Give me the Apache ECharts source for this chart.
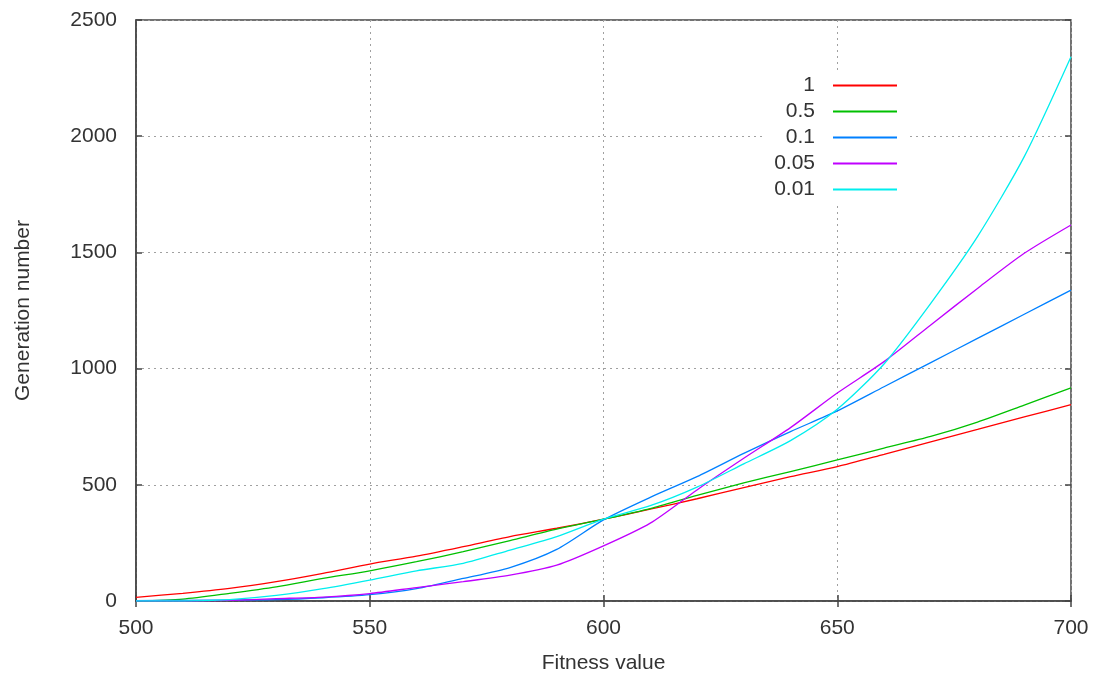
<!DOCTYPE html>
<html>
<head>
<meta charset="utf-8">
<script src="https://cdn.jsdelivr.net/npm/echarts@6/dist/echarts.min.js"></script>
<style>
  html, body { margin: 0; padding: 0; background: #fff; }
  #chart { width: 1094px; height: 677px; }
</style>
</head>
<body>
<div id="chart"></div>
<script>
// fitness values (x) shared by all series
const fitness = [500, 510, 520, 530, 540, 550, 560, 570, 580, 590, 600,
                 610, 620, 630, 640, 650, 660, 670, 680, 690, 700];

const rate1   = [16, 33, 54, 83, 119, 159, 193, 234, 277, 313, 352,
                 395, 440, 488, 535, 578, 631, 685, 738, 792, 845];
const rate05  = [0, 8, 33, 61, 97, 130, 169, 212, 260, 309, 352,
                 398, 455, 508, 557, 607, 658, 708, 770, 843, 917];
const rate01  = [2, 3, 4, 6, 14, 27, 53, 97, 144, 222, 349,
                 446, 535, 635, 729, 818, 922, 1026, 1130, 1234, 1338];
const rate005 = [0, 0, 3, 10, 17, 32, 58, 83, 111, 154, 237,
                 335, 478, 614, 746, 895, 1030, 1188, 1345, 1496, 1618];
const rate001 = [0, 0, 6, 24, 53, 90, 130, 162, 219, 277, 352,
                 410, 490, 590, 690, 825, 1020, 1281, 1568, 1912, 2342];

const names  = ['1', '0.5', '0.1', '0.05', '0.01'];
const colors = ['#ff0000', '#00c000', '#0080ff', '#c000ff', '#00eeee'];
const values = [rate1, rate05, rate01, rate005, rate001];

const chart = echarts.init(document.getElementById('chart'));

const font = 'Liberation Sans';
const fs = 21;
const gridLine = { show: true, lineStyle: { type: [2, 4], color: '#a0a0a0', width: 1 } };
const tick = { show: true, inside: true, length: 6, lineStyle: { color: '#444', width: 1.5 } };

const legends = names.map((n, i) => ({
  data: [n],
  right: 197,
  top: 84 + i * 26 - 9,
  padding: 0,
  align: 'right',
  icon: 'rect',
  itemWidth: 64,
  itemHeight: 2,
  selectedMode: false,
  textStyle: { fontFamily: font, fontSize: fs, color: '#333', padding: [0, 13, 0, 0] }
}));

chart.setOption({
  animation: false,
  backgroundColor: '#fff',
  grid: { left: 136, right: 23, top: 20, bottom: 76, outerBoundsMode: 'none',
          show: true, borderColor: '#444', borderWidth: 1.5 },
  legend: legends,
  graphic: [{
    type: 'rect', z: 1,
    shape: { x: 765, y: 70, width: 141, height: 132 },
    style: { fill: '#fff' }
  }],
  xAxis: [{
    type: 'value', min: 500, max: 700, interval: 50,
    name: 'Fitness value', nameLocation: 'middle', nameGap: 52,
    nameTextStyle: { fontFamily: font, fontSize: fs, color: '#333' },
    axisLine: { show: true, lineStyle: { color: '#444', width: 1.5 } },
    axisTick: tick,
    axisLabel: { fontFamily: font, fontSize: fs, color: '#333', margin: 17 },
    splitLine: gridLine
  }, {
    type: 'value', min: 500, max: 700, interval: 50, position: 'top',
    axisLine: { show: false }, axisTick: tick,
    axisLabel: { show: false }, splitLine: { show: false }
  }],
  yAxis: [{
    type: 'value', min: 0, max: 2500, interval: 500,
    name: 'Generation number', nameLocation: 'middle', nameGap: 102,
    nameTextStyle: { fontFamily: font, fontSize: fs, color: '#333' },
    axisLine: { show: true, lineStyle: { color: '#444', width: 1.5 } },
    axisTick: tick,
    axisLabel: { fontFamily: font, fontSize: fs, color: '#333', margin: 19,
                 formatter: v => String(v) },
    splitLine: gridLine
  }, {
    type: 'value', min: 0, max: 2500, interval: 500, position: 'right',
    axisLine: { show: false }, axisTick: tick,
    axisLabel: { show: false }, splitLine: { show: false }
  }],
  series: names.map((n, i) => ({
    name: n,
    type: 'line',
    showSymbol: false,
    smooth: 0.25,
    z: 3,
    color: colors[i],
    lineStyle: { color: colors[i], width: 1.3 },
    data: fitness.map((x, k) => [x, values[i][k]])
  }))
});
</script>
</body>
</html>
